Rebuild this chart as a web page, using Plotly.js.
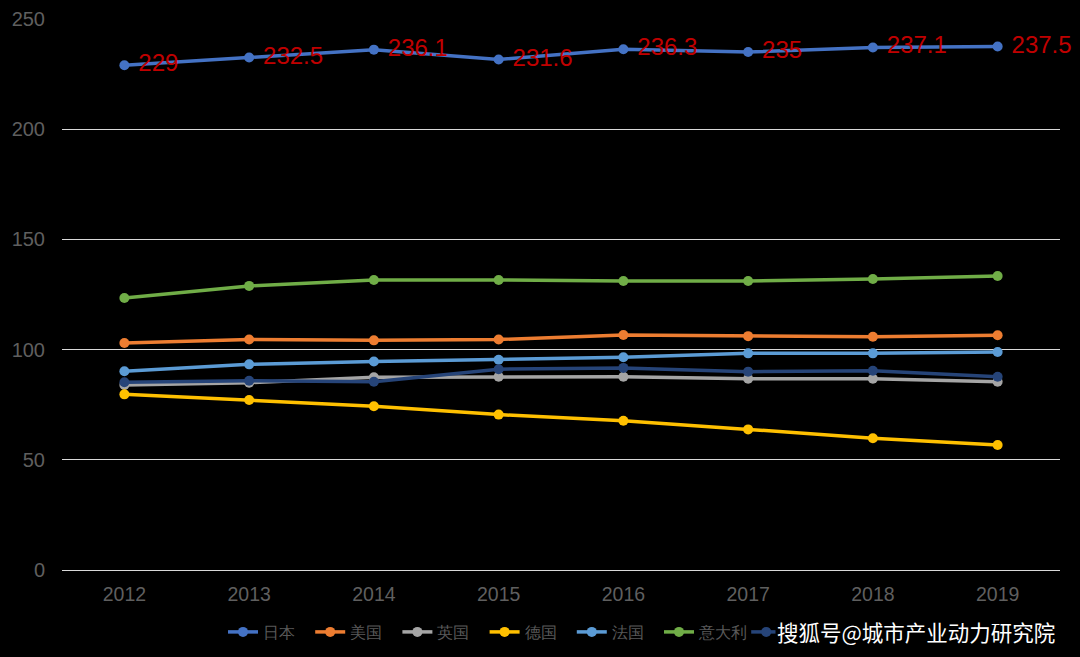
<!DOCTYPE html>
<html><head><meta charset="utf-8">
<script src="https://cdn.plot.ly/plotly-3.0.1.min.js"></script>
<style>html,body{margin:0;padding:0;background:#000;}#chart{width:1080px;height:657px;}</style>
</head><body><div id="chart"></div>
<script>
const years = ['2012','2013','2014','2015','2016','2017','2018','2019'];
const japan = [229, 232.5, 236.1, 231.6, 236.3, 235, 237.1, 237.5];
const usa = [103.0, 104.6, 104.2, 104.6, 106.6, 106.1, 105.8, 106.5];
const uk = [83.9, 85.0, 87.4, 87.7, 87.7, 86.8, 86.8, 85.4];
const germany = [79.7, 77.1, 74.3, 70.5, 67.7, 63.8, 59.8, 56.7];
const france = [90.2, 93.3, 94.6, 95.4, 96.5, 98.3, 98.3, 98.9];
const italy = [123.4, 128.9, 131.6, 131.6, 131.1, 131.1, 132.0, 133.4];
const canada = [85.2, 85.9, 85.4, 91.1, 91.7, 90.0, 90.4, 87.7];
const names = ['日本','美国','英国','德国','法国','意大利','加拿大'];
const colors = ['#4472C4','#ED7D31','#A5A5A5','#FFC000','#5B9BD5','#70AD47','#264478'];
const series = [japan, usa, uk, germany, france, italy, canada];
const watermark = '搜狐号@城市产业动力研究院';

const traces = series.map((s, i) => {
  const t = {
    x: years, y: s, name: names[i], type: 'scatter', mode: 'lines+markers',
    line: {color: colors[i], width: 3.5},
    marker: {color: colors[i], size: 10},
    hoverinfo: 'skip', cliponaxis: false
  };
  if (i === 0) {
    t.mode = 'lines+markers+text';
    t.text = s.map(v => ' ' + String(v));
    t.textposition = 'middle right';
    t.textfont = {color: '#C00000', size: 24, family: 'Liberation Sans, Arial, sans-serif'};
  }
  return t;
});

const layout = {
  width: 1080, height: 657,
  paper_bgcolor: '#000', plot_bgcolor: '#000',
  margin: {l: 62, r: 20, t: 19, b: 87},
  font: {family: 'Liberation Sans, Arial, sans-serif', color: '#595959'},
  showlegend: true,
  xaxis: {
    type: 'category', range: [-0.5, 7.5], showgrid: false, zeroline: false,
    showline: false, ticks: '', automargin: false, ticklabelstandoff: 10,
    tickfont: {size: 19.5, color: '#5f5f5f'}
  },
  yaxis: {
    range: [0, 250], dtick: 50, showgrid: true, gridcolor: '#D9D9D9', gridwidth: 1,
    zeroline: true, zerolinecolor: '#D9D9D9', zerolinewidth: 1, showline: false,
    tickfont: {size: 20, color: '#5f5f5f'}, ticks: '', ticklen: 0, automargin: false,
    ticklabelstandoff: 16
  },
  legend: {
    orientation: 'h', x: 223 / 1080, xref: 'container', xanchor: 'left',
    y: (657 - 632) / 657, yref: 'container', yanchor: 'middle',
    font: {size: 16, color: '#595959'}, bgcolor: 'rgba(0,0,0,0)',
    entrywidth: 42.2, entrywidthmode: 'pixels', itemclick: false, traceorder: 'normal'
  },
  annotations: [{
    text: watermark, xref: 'paper', yref: 'paper', x: 1.0 - 3 / 998, y: -0.112,
    xanchor: 'right', yanchor: 'middle', showarrow: false,
    font: {size: 21.5, color: '#FFFFFF', family: 'Noto Sans CJK SC, sans-serif'},
    bgcolor: '#000000'
  }]
};

Plotly.newPlot('chart', traces, layout, {displayModeBar: false, staticPlot: true});
</script></body></html>
